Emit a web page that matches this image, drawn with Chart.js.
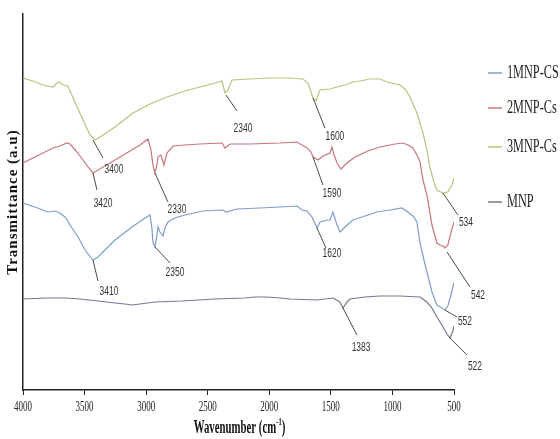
<!DOCTYPE html>
<html>
<head>
<meta charset="utf-8">
<script src="https://cdn.jsdelivr.net/npm/chart.js@4.4.1/dist/chart.umd.min.js"></script>
<style>
  body { margin: 0; background: #fff; }
  #wrap { width: 560px; height: 439px; }
</style>
</head>
<body>
<div id="wrap"><canvas id="ftir" width="560" height="439"></canvas></div>
<script>
// x axis ticks (wavenumber, cm-1)
var waveTicks = [4000, 3500, 3000, 2500, 2000, 1500, 1000, 500];

var seriesNames = ['1MNP-CS', '2MNP-Cs', '3MNP-Cs', 'MNP'];
var seriesColors = ['#7f9dcb', '#c9767b', '#b6c47e', '#757891'];

// 1MNP-CS
var wave1MNP = [4000,3903,3797,3740,3700,3659,3602,3553,3497,3432,3391,3359,3253,3115,3009,2969,2953,2945,2929,2912,2904,2888,2863,2847,2823,2766,2685,2538,2376,2352,2262,2076,1913,1775,1735,1694,1653,1613,1588,1531,1507,1483,1450,1426,1377,1320,1223,1126,1020,923,874,833,801,776,744,720,679,639,598,574,550,525,501];
var trans1MNP = [187,183,178,179,177,173,162,153,140,130,133,137,150,163,172,175,162,148,143,155,163,158,154,162,168,172,175,179,180,178,181,182,183,184,180,179,173,162,168,170,170,178,165,158,164,170,174,178,180,182,178,174,168,147,130,118,98,85,82,80,84,95,107];

// 2MNP-Cs
var wave2MNP = [4000,3919,3838,3756,3700,3643,3618,3562,3513,3472,3432,3391,3350,3294,3212,3131,3050,2985,2961,2945,2929,2912,2904,2880,2856,2831,2782,2685,2563,2384,2360,2319,2157,1913,1775,1735,1694,1661,1645,1604,1564,1507,1491,1474,1450,1418,1369,1304,1199,1101,979,914,874,833,801,776,752,720,679,639,614,590,574,550,525,501];
var trans2MNP = [227,232,237,242,244,247,246,238,230,223,217,220,223,227,233,239,245,251,240,225,217,225,233,235,225,237,244,245,246,247,242,246,246,247,248,245,242,238,233,230,234,237,243,235,227,221,227,233,239,243,246,247,245,242,235,228,210,195,165,147,145,144,142,145,157,168];

// 3MNP-Cs
var wave3MNP = [4000,3919,3838,3756,3724,3700,3675,3635,3578,3513,3456,3415,3375,3253,3107,2969,2831,2685,2563,2441,2384,2360,2335,2303,2157,1994,1832,1727,1686,1645,1621,1588,1507,1450,1385,1320,1264,1183,1101,1044,939,890,858,801,752,720,696,663,639,590,550,517,500];
var trans3MNP = [312,309,305,303,307,308,305,304,288,270,255,250,253,263,277,286,293,299,303,307,309,297,300,310,311,312,312,311,307,292,289,300,301,303,305,308,309,311,311,308,305,300,293,277,257,240,223,208,200,197,198,205,212];

// MNP
var waveMNP = [4000,3821,3659,3537,3391,3253,3172,3115,3050,2928,2709,2441,2197,2116,2019,1913,1832,1613,1483,1426,1402,1369,1345,1223,1101,939,776,720,679,639,598,557,533,509,500];
var transMNP = [91,92,92,91,89,87,86,85,86,88,89,91,92,93,93,92,91,90,92,88,82,88,91,93,94,94,93,88,82,73,65,56,52,59,64];

// peak labels: text, peak (wave, trans), leader end (wave, trans), text centre (wave, trans)
var peakMarks = [
  ['3400', 3432, 250, 3350, 232, 3261, 221],
  ['2340', 2352, 295, 2262, 279, 2214, 262],
  ['1600', 1645, 292, 1548, 262, 1467, 254],
  ['534', 590, 197, 468, 175, 403, 168],
  ['3420', 3432, 217, 3399, 200, 3350, 187],
  ['2330', 2928, 217, 2823, 188, 2750, 181],
  ['1590', 1645, 233, 1564, 205, 1491, 197],
  ['542', 557, 138, 370, 103, 305, 95],
  ['3410', 3432, 130, 3391, 109, 3302, 99],
  ['2350', 2928, 143, 2806, 127, 2766, 118],
  ['1620', 1613, 162, 1540, 142, 1491, 137],
  ['552', 574, 80, 476, 73, 411, 69],
  ['1383', 1402, 82, 1288, 55, 1255, 43],
  ['522', 533, 52, 395, 35, 330, 24]
];

function zip(xs, ys) {
  var out = [];
  for (var i = 0; i < xs.length; i++) out.push({x: xs[i], y: ys[i]});
  return out;
}

var allWaves = [wave1MNP, wave2MNP, wave3MNP, waveMNP];
var allTrans = [trans1MNP, trans2MNP, trans3MNP, transMNP];

var datasets = seriesNames.map(function (name, i) {
  return {
    label: name,
    data: zip(allWaves[i], allTrans[i]),
    borderColor: seriesColors[i],
    backgroundColor: seriesColors[i],
    borderWidth: 1.2,
    pointRadius: 0,
    tension: 0,
    fill: false
  };
});

// squeezed text, the picture is narrow horizontally
function squeezeText(ctx, text, x, y, font, sx, color, align) {
  ctx.save();
  ctx.translate(x, y);
  ctx.scale(sx, 1);
  ctx.font = font;
  ctx.fillStyle = color;
  ctx.textAlign = align || 'center';
  ctx.textBaseline = 'middle';
  ctx.fillText(text, 0, 0);
  ctx.restore();
}

var legendY = [73, 108, 147, 202];

var textPlugin = {
  id: 'ftirText',
  afterDraw: function (chart) {
    var ctx = chart.ctx;
    var xs = chart.scales.x, ys = chart.scales.y;
    var area = chart.chartArea;

    // tick labels
    waveTicks.forEach(function (w) {
      squeezeText(ctx, String(w), xs.getPixelForValue(w), area.bottom + 17, '15px "Liberation Serif"', 0.6, '#222');
    });

    // peak labels with leader lines
    ctx.save();
    ctx.strokeStyle = '#4a4a4a';
    ctx.lineWidth = 1;
    peakMarks.forEach(function (p) {
      ctx.beginPath();
      ctx.moveTo(xs.getPixelForValue(p[1]), ys.getPixelForValue(p[2]));
      ctx.lineTo(xs.getPixelForValue(p[3]), ys.getPixelForValue(p[4]));
      ctx.stroke();
      squeezeText(ctx, p[0], xs.getPixelForValue(p[5]), ys.getPixelForValue(p[6]), '13px "Liberation Sans"', 0.65, '#333');
    });
    ctx.restore();

    // legend
    chart.data.datasets.forEach(function (ds, i) {
      var y = legendY[i];
      ctx.save();
      ctx.strokeStyle = ds.borderColor;
      ctx.lineWidth = 1.5;
      ctx.beginPath();
      ctx.moveTo(area.right + 34, y);
      ctx.lineTo(area.right + 48, y);
      ctx.stroke();
      ctx.restore();
      squeezeText(ctx, ds.label, area.right + 53, y, '18px "Liberation Serif"', 0.68, '#222', 'left');
    });

    // x title with superscript
    ctx.save();
    var cx = (area.left + area.right) / 2 + 1, cy = 428;
    var big = 'bold 18px "Liberation Serif"', small = 'bold 11px "Liberation Serif"';
    ctx.font = big;
    var w1 = ctx.measureText('Wavenumber (cm').width;
    var w3 = ctx.measureText(')').width;
    ctx.font = small;
    var w2 = ctx.measureText('-1').width;
    var total = w1 + w2 + w3;
    ctx.translate(cx, cy);
    ctx.scale(0.6, 1);
    ctx.fillStyle = '#111';
    ctx.textBaseline = 'middle';
    ctx.textAlign = 'left';
    ctx.font = big;
    ctx.fillText('Wavenumber (cm', -total / 2, 0);
    ctx.font = small;
    ctx.fillText('-1', -total / 2 + w1, -6);
    ctx.font = big;
    ctx.fillText(')', -total / 2 + w1 + w2, 0);
    ctx.restore();

    // y title
    ctx.save();
    ctx.translate(13, (area.top + area.bottom) / 2);
    ctx.rotate(-Math.PI / 2);
    ctx.font = 'bold 15px "Liberation Serif"';
    if ('letterSpacing' in ctx) ctx.letterSpacing = '1px';
    ctx.fillStyle = '#111';
    ctx.textAlign = 'center';
    ctx.textBaseline = 'middle';
    ctx.fillText('Transmittance (a.u)', 0, 0);
    ctx.restore();
  }
};

var config = {
  type: 'line',
  data: { datasets: datasets },
  options: {
    responsive: false,
    animation: false,
    layout: { padding: { left: 15, right: 106, top: 14, bottom: 44 } },
    plugins: {
      legend: { display: false },
      tooltip: { enabled: false }
    },
    scales: {
      x: {
        type: 'linear',
        min: 500,
        max: 4000,
        reverse: true,
        afterBuildTicks: function (scale) {
          scale.ticks = waveTicks.map(function (v) { return {value: v}; });
        },
        ticks: { display: false },
        grid: { drawOnChartArea: false, drawTicks: true, tickLength: 5, color: '#222', lineWidth: 1 },
        border: { display: true, color: '#222', width: 1.5 }
      },
      y: {
        min: 0,
        max: 376,
        ticks: { display: false },
        grid: { display: false },
        border: { display: true, color: '#222', width: 1.5 }
      }
    }
  },
  plugins: [textPlugin]
};

var ctx = document.getElementById('ftir').getContext('2d');
var ftirChart = new Chart(ctx, config);
</script>
</body>
</html>
